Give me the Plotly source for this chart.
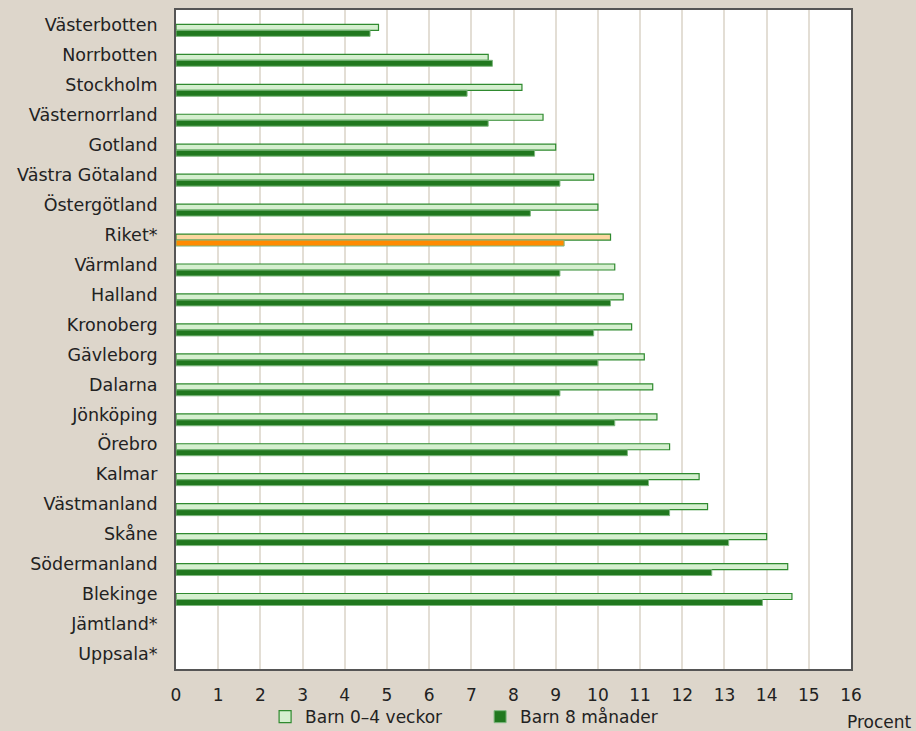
import plotly.graph_objects as go

categories = ["Västerbotten", "Norrbotten", "Stockholm", "Västernorrland", "Gotland",
              "Västra Götaland", "Östergötland", "Riket*", "Värmland", "Halland",
              "Kronoberg", "Gävleborg", "Dalarna", "Jönköping", "Örebro", "Kalmar",
              "Västmanland", "Skåne", "Södermanland", "Blekinge", "Jämtland*", "Uppsala*"]
barn_0_4_veckor = [4.8, 7.4, 8.2, 8.7, 9.0, 9.9, 10.0, 10.3, 10.4, 10.6, 10.8, 11.1,
                   11.3, 11.4, 11.7, 12.4, 12.6, 14.0, 14.5, 14.6, None, None]
barn_8_manader = [4.6, 7.5, 6.9, 7.4, 8.5, 9.1, 8.4, 9.2, 9.1, 10.3, 9.9, 10.0,
                  9.1, 10.4, 10.7, 11.2, 11.7, 13.1, 12.7, 13.9, None, None]
x_ticks = list(range(0, 17))

light_cols = ["#fcd7a0" if c == "Riket*" else "#d5efcf" for c in categories]
dark_cols = ["#ff8a00" if c == "Riket*" else "#21781f" for c in categories]

fig = go.Figure()
fig.add_trace(go.Bar(
    y=categories, x=barn_0_4_veckor, orientation="h", name="Barn 0–4 veckor",
    offset=-0.02, width=0.2,
    marker=dict(color=light_cols, line=dict(color="#2f8a2f", width=1.2)),
))
fig.add_trace(go.Bar(
    y=categories, x=barn_8_manader, orientation="h", name="Barn 8 månader",
    offset=0.18, width=0.2,
    marker=dict(color=dark_cols, line=dict(color="#7fb87f", width=1)),
))

font_family = "DejaVu Sans"
fig.update_layout(
    template="none",
    width=916, height=731,
    paper_bgcolor="#ddd6cb", plot_bgcolor="#ffffff",
    margin=dict(l=176, r=65, t=10, b=62, autoexpand=False),
    barmode="overlay",
    font=dict(family=font_family, color="#222222", size=16),
    showlegend=True,
    legend=dict(orientation="h", x=0.132, y=-0.073, xanchor="left", yanchor="middle",
                bgcolor="rgba(0,0,0,0)", font=dict(size=17, family=font_family),
                itemwidth=30, traceorder="normal",
                entrywidth=170, entrywidthmode="pixels"),
    xaxis=dict(range=[0, 16], tickvals=x_ticks, showgrid=True, gridcolor="#e3ded5",
               gridwidth=1.5, zeroline=False, showline=True, linecolor="#555555",
               linewidth=2, mirror=True, ticks="outside", ticklen=10,
               tickcolor="rgba(0,0,0,0)", tickfont=dict(size=17), automargin=False),
    yaxis=dict(autorange="reversed", showgrid=False, showline=True, linecolor="#555555",
               linewidth=2, mirror=True, ticks="outside", ticklen=13,
               tickcolor="rgba(0,0,0,0)", tickfont=dict(size=17.5), automargin=False),
    annotations=[dict(text="Procent", xref="paper", yref="paper", x=1.093, y=-0.08,
                      xanchor="right", yanchor="middle", showarrow=False,
                      font=dict(size=17, family=font_family))],
)

fig.write_html("out.html", config={"displayModeBar": False},
               post_script="document.body.style.margin='0';document.body.style.background='#ddd6cb';")
